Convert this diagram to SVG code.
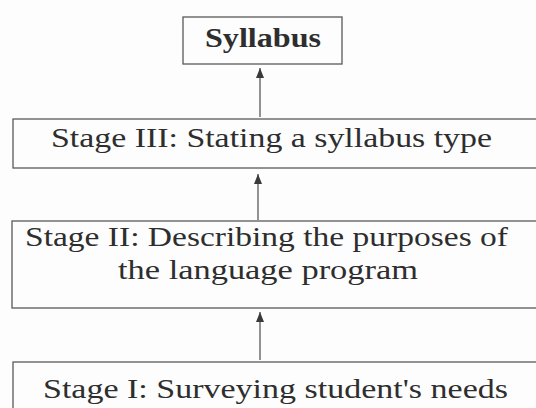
<svg xmlns="http://www.w3.org/2000/svg" width="536" height="408" viewBox="0 0 536 408">
<style>
.box{fill:none;stroke:#5a5a5a;stroke-width:1.3}
.t{font-family:"Liberation Serif","Times New Roman",serif;font-size:27px;fill:#2e2e2e}
.b{font-weight:bold}
.c{stroke:#5a5a5a;stroke-width:1.3;fill:none}
</style>
<defs>
<marker id="ah" viewBox="0 0 10 8" refX="10" refY="4" markerWidth="10" markerHeight="8" markerUnits="userSpaceOnUse" orient="auto">
<path d="M0,0 L10,4 L0,8 Z" fill="#3a3a3a"/>
</marker>
</defs>
<rect width="536" height="408" fill="#fdfdfd"/>
<g id="connectors">
<line class="c" x1="260" y1="117" x2="260" y2="68" marker-end="url(#ah)"/>
<line class="c" x1="258" y1="220" x2="258" y2="174" marker-end="url(#ah)"/>
<line class="c" x1="260" y1="360" x2="260" y2="312" marker-end="url(#ah)"/>
</g>
<g id="syllabus">
<rect class="box" x="183" y="17" width="159" height="47"/>
<text class="t b" x="205" y="47" textLength="116" lengthAdjust="spacingAndGlyphs">Syllabus</text>
</g>
<g id="stage3">
<rect class="box" x="13" y="119" width="540" height="49"/>
<text class="t" x="51" y="147" textLength="441" lengthAdjust="spacingAndGlyphs">Stage III: Stating a syllabus type</text>
</g>
<g id="stage2">
<rect class="box" x="12" y="221" width="540" height="87"/>
<text class="t" x="25" y="246" textLength="483" lengthAdjust="spacingAndGlyphs">Stage II: Describing the purposes of</text>
<text class="t" x="118" y="279" textLength="300" lengthAdjust="spacingAndGlyphs">the language program</text>
</g>
<g id="stage1">
<rect class="box" x="13" y="362" width="540" height="60"/>
<text class="t" x="43" y="398" textLength="465" lengthAdjust="spacingAndGlyphs">Stage I: Surveying student's needs</text>
</g>
</svg>
